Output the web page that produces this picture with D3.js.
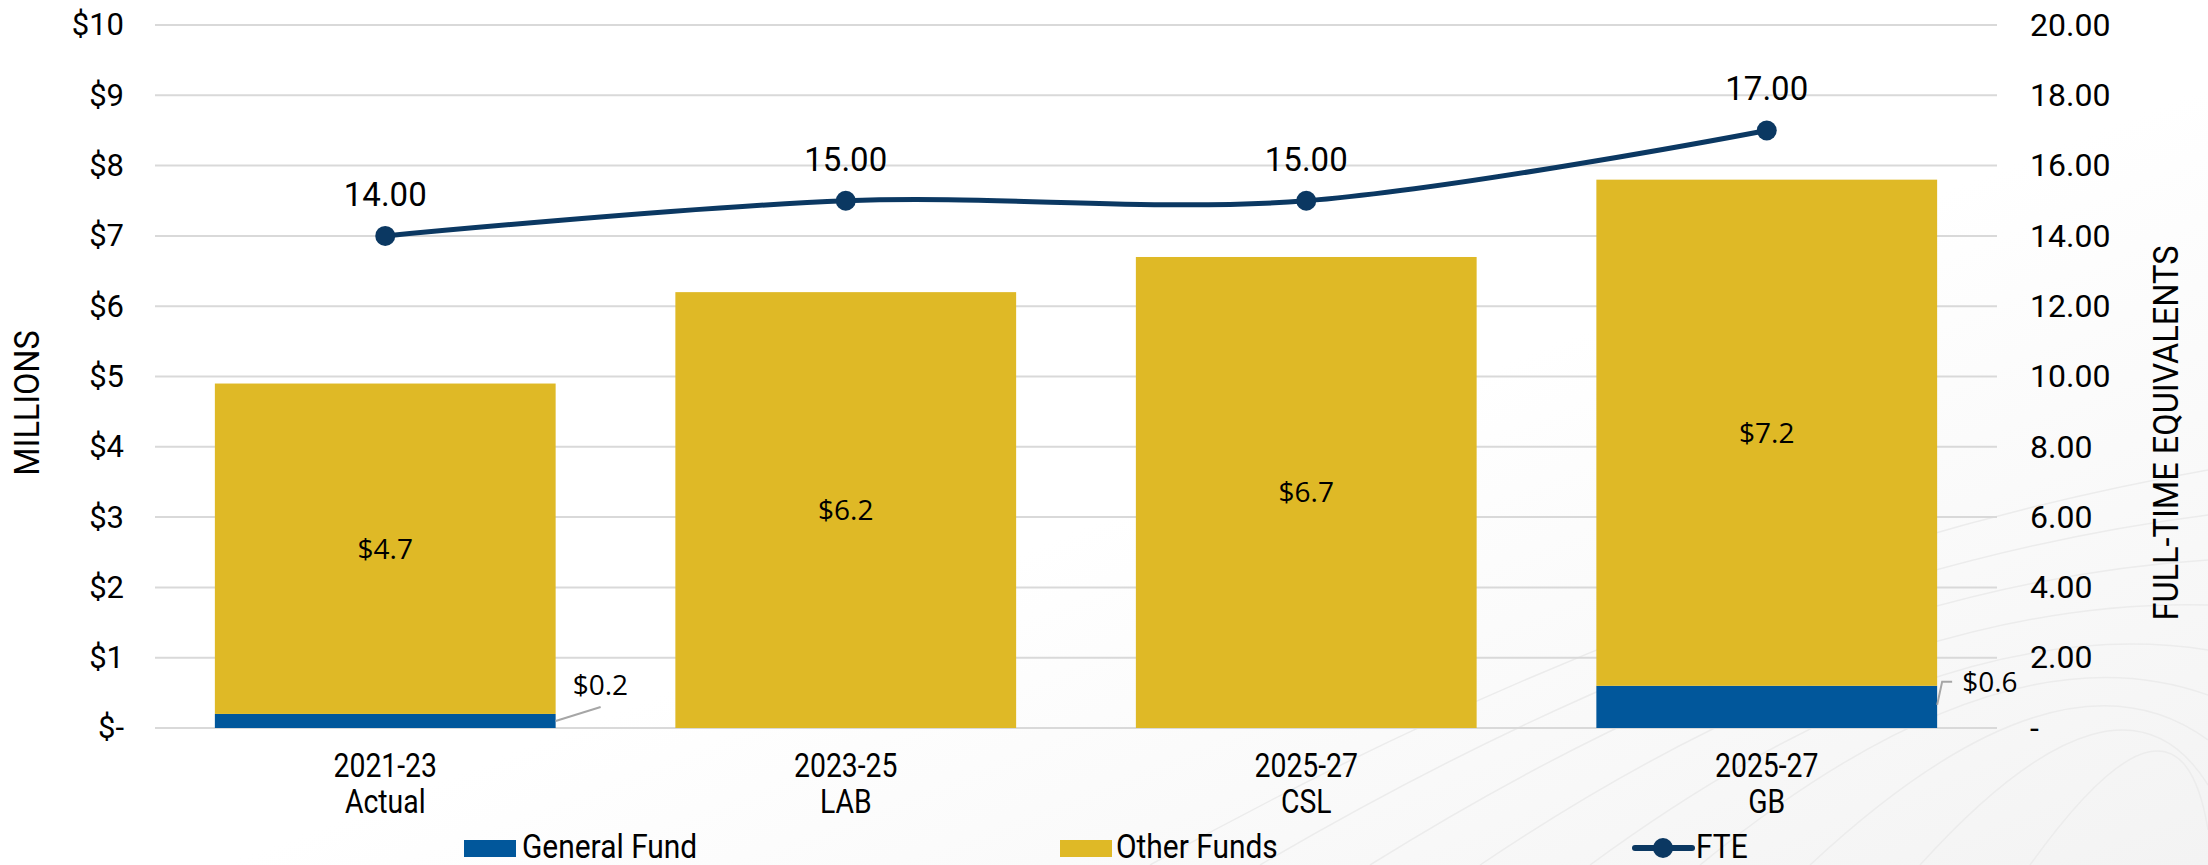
<!DOCTYPE html>
<html>
<head>
<meta charset="utf-8">
<script src="https://cdn.jsdelivr.net/npm/d3@7"></script>
<style>
  body { margin: 0; background: #ffffff; }
  svg { display: block; }
</style>
</head>
<body>
<div id="chart"></div>
<script>
// chart data
let categories = ["2021-23|Actual", "2023-25|LAB", "2025-27|CSL", "2025-27|GB"];
let generalFund = [0.2, 0, 0, 0.6];
let otherFunds = [4.7, 6.2, 6.7, 7.2];
let fte = [14, 15, 15, 17];

let leftTicks = [0, 1, 2, 3, 4, 5, 6, 7, 8, 9, 10];
let rightTicks = [0, 2, 4, 6, 8, 10, 12, 14, 16, 18, 20];

let svgWidth = 2208;
let svgHeight = 865;

let margin = { top: 25, right: 211, bottom: 137, left: 155 };
let width = svgWidth - margin.left - margin.right;
let height = svgHeight - margin.top - margin.bottom;

let gfColor = "#01579b";
let ofColor = "#dfb926";
let lineColor = "#0b3862";
let gridColor = "#d9d9d9";

let svg = d3.select("#chart")
  .append("svg")
  .attr("width", svgWidth)
  .attr("height", svgHeight);

// faint background swirl, bottom right
let defs = svg.append("defs");
let grad = defs.append("linearGradient")
  .attr("id", "bg")
  .attr("x1", "0").attr("y1", "0").attr("x2", "1").attr("y2", "1");
grad.append("stop").attr("offset", "0.55").attr("stop-color", "#ffffff");
grad.append("stop").attr("offset", "1").attr("stop-color", "#f3f3f3");
svg.append("rect").attr("width", svgWidth).attr("height", svgHeight).attr("fill", "url(#bg)");

let deco = svg.append("g").attr("fill", "none").attr("stroke", "#ececec").attr("stroke-width", 1.5);
d3.range(9).forEach(i => {
  deco.append("path")
    .attr("d", `M ${1150 + i * 110} 865 Q ${1700 + i * 60} ${560 + i * 12} 2208 ${470 + i * 45}`);
});

let chartGroup = svg.append("g")
  .attr("transform", `translate(${margin.left}, ${margin.top})`);

// scales
let xScale = d3.scaleBand()
  .domain(categories)
  .range([0, width])
  .paddingInner(0.26)
  .paddingOuter(0.13);

let yLeft = d3.scaleLinear().domain([0, 10]).range([height, 0]);
let yRight = d3.scaleLinear().domain([0, 20]).range([height, 0]);

// gridlines
chartGroup.append("g")
  .selectAll("line")
  .data(leftTicks)
  .enter()
  .append("line")
  .attr("x1", 0)
  .attr("x2", width)
  .attr("y1", d => yLeft(d))
  .attr("y2", d => yLeft(d))
  .attr("stroke", gridColor)
  .attr("stroke-width", 2);

// left axis
let leftAxis = d3.axisLeft(yLeft)
  .tickValues(leftTicks)
  .tickSize(0)
  .tickPadding(31)
  .tickFormat(d => d === 0 ? "$-" : "$" + d);

chartGroup.append("g")
  .call(leftAxis)
  .call(g => g.select(".domain").remove())
  .selectAll("text")
  .attr("font-family", "Roboto, sans-serif")
  .attr("font-size", "31px")
  .attr("fill", "#000");

// right axis
let rightAxis = d3.axisRight(yRight)
  .tickValues(rightTicks)
  .tickSize(0)
  .tickPadding(33)
  .tickFormat(d => d === 0 ? "-" : d3.format(".2f")(d));

chartGroup.append("g")
  .attr("transform", `translate(${width}, 0)`)
  .call(rightAxis)
  .call(g => g.select(".domain").remove())
  .selectAll("text")
  .attr("font-family", "Roboto, sans-serif")
  .attr("font-size", "32px")
  .attr("fill", "#000");

// stacked bars
let stacked = categories.map((c, i) => ({ cat: c, gf: generalFund[i], of: otherFunds[i], fte: fte[i] }));

chartGroup.selectAll(".gf")
  .data(stacked)
  .enter()
  .append("rect")
  .attr("class", "gf")
  .attr("x", d => xScale(d.cat))
  .attr("width", xScale.bandwidth())
  .attr("y", d => yLeft(d.gf))
  .attr("height", d => yLeft(0) - yLeft(d.gf))
  .attr("fill", gfColor);

chartGroup.selectAll(".of")
  .data(stacked)
  .enter()
  .append("rect")
  .attr("class", "of")
  .attr("x", d => xScale(d.cat))
  .attr("width", xScale.bandwidth())
  .attr("y", d => yLeft(d.gf + d.of))
  .attr("height", d => yLeft(d.gf) - yLeft(d.gf + d.of))
  .attr("fill", ofColor);

// other funds labels
chartGroup.selectAll(".ofLabel")
  .data(stacked)
  .enter()
  .append("text")
  .attr("x", d => xScale(d.cat) + xScale.bandwidth() / 2)
  .attr("y", d => yLeft(d.gf + d.of / 2))
  .attr("dy", "0.35em")
  .attr("text-anchor", "middle")
  .attr("font-family", "'Open Sans', sans-serif")
  .attr("font-size", "28px")
  .attr("fill", "#000")
  .text(d => "$" + d3.format(".1f")(d.of));

// general fund labels, outside with leader lines
let gfLabels = stacked.filter(d => d.gf > 0);
gfLabels.forEach((d, i) => {
  let right = xScale(d.cat) + xScale.bandwidth();
  let mid = yLeft(d.gf / 2);
  let g = chartGroup.append("g");
  if (i === 0) {
    g.append("path")
      .attr("d", `M ${right} ${mid} L ${right + 45} ${mid - 14}`)
      .attr("fill", "none").attr("stroke", "#a6a6a6").attr("stroke-width", 2);
    g.append("text")
      .attr("x", right + 17)
      .attr("y", mid - 26)
      .attr("font-family", "'Open Sans', sans-serif")
      .attr("font-size", "28px")
      .text("$" + d3.format(".1f")(d.gf));
  } else {
    g.append("path")
      .attr("d", `M ${right} ${mid - 2} L ${right + 5} ${yLeft(d.gf) - 4} L ${right + 15} ${yLeft(d.gf) - 4}`)
      .attr("fill", "none").attr("stroke", "#a6a6a6").attr("stroke-width", 2);
    g.append("text")
      .attr("x", right + 25)
      .attr("y", yLeft(d.gf) - 4)
      .attr("dy", "0.35em")
      .attr("font-family", "'Open Sans', sans-serif")
      .attr("font-size", "28px")
      .text("$" + d3.format(".1f")(d.gf));
  }
});

// FTE line
let cx = d => xScale(d.cat) + xScale.bandwidth() / 2;
let line = d3.line()
  .x(d => cx(d))
  .y(d => yRight(d.fte))
  .curve(d3.curveCatmullRom.alpha(0));

chartGroup.append("path")
  .datum(stacked)
  .attr("d", line)
  .attr("fill", "none")
  .attr("stroke", lineColor)
  .attr("stroke-width", 5);

chartGroup.selectAll(".fteDot")
  .data(stacked)
  .enter()
  .append("circle")
  .attr("cx", d => cx(d))
  .attr("cy", d => yRight(d.fte))
  .attr("r", 10)
  .attr("fill", lineColor);

chartGroup.selectAll(".fteLabel")
  .data(stacked)
  .enter()
  .append("text")
  .attr("x", d => cx(d))
  .attr("y", d => yRight(d.fte) - 30)
  .attr("text-anchor", "middle")
  .attr("font-family", "Roboto, sans-serif")
  .attr("font-size", "33px")
  .attr("fill", "#000")
  .text(d => d3.format(".2f")(d.fte));

// category labels (condensed look)
let catLabels = chartGroup.selectAll(".cat")
  .data(categories)
  .enter()
  .append("g")
  .attr("transform", d => `translate(${xScale(d) + xScale.bandwidth() / 2}, ${height + 49}) scale(0.86,1)`);

catLabels.append("text")
  .attr("text-anchor", "middle")
  .attr("font-family", "Roboto, sans-serif")
  .attr("font-size", "33px")
  .attr("fill", "#000")
  .selectAll("tspan")
  .data(d => d.split("|"))
  .enter()
  .append("tspan")
  .attr("x", 0)
  .attr("dy", (d, i) => i === 0 ? 0 : 36)
  .text(d => d);

// axis titles
svg.append("text")
  .attr("transform", `translate(39, 403) rotate(-90) scale(0.9,1)`)
  .attr("text-anchor", "middle")
  .attr("font-family", "Roboto, sans-serif")
  .attr("font-size", "36px")
  .attr("fill", "#000")
  .text("MILLIONS");

svg.append("text")
  .attr("transform", `translate(2178, 433) rotate(-90) scale(0.93,1)`)
  .attr("text-anchor", "middle")
  .attr("font-family", "Roboto, sans-serif")
  .attr("font-size", "35px")
  .attr("fill", "#000")
  .text("FULL-TIME EQUIVALENTS");

// legend
let legendY = 848;
let legend = svg.append("g");

legend.append("rect").attr("x", 464).attr("y", legendY - 8).attr("width", 52).attr("height", 17).attr("fill", gfColor);
legend.append("text")
  .attr("transform", `translate(522, ${legendY + 10}) scale(0.88,1)`)
  .attr("font-family", "Roboto, sans-serif").attr("font-size", "34px")
  .text("General Fund");

legend.append("rect").attr("x", 1060).attr("y", legendY - 8).attr("width", 52).attr("height", 17).attr("fill", ofColor);
legend.append("text")
  .attr("transform", `translate(1116, ${legendY + 10}) scale(0.88,1)`)
  .attr("font-family", "Roboto, sans-serif").attr("font-size", "34px")
  .text("Other Funds");

legend.append("line").attr("x1", 1635).attr("x2", 1692).attr("y1", legendY).attr("y2", legendY)
  .attr("stroke", lineColor).attr("stroke-width", 6).attr("stroke-linecap", "round");
legend.append("circle").attr("cx", 1663).attr("cy", legendY).attr("r", 10).attr("fill", lineColor);
legend.append("text")
  .attr("transform", `translate(1696, ${legendY + 10}) scale(0.88,1)`)
  .attr("font-family", "Roboto, sans-serif").attr("font-size", "34px")
  .text("FTE");
</script>
</body>
</html>
